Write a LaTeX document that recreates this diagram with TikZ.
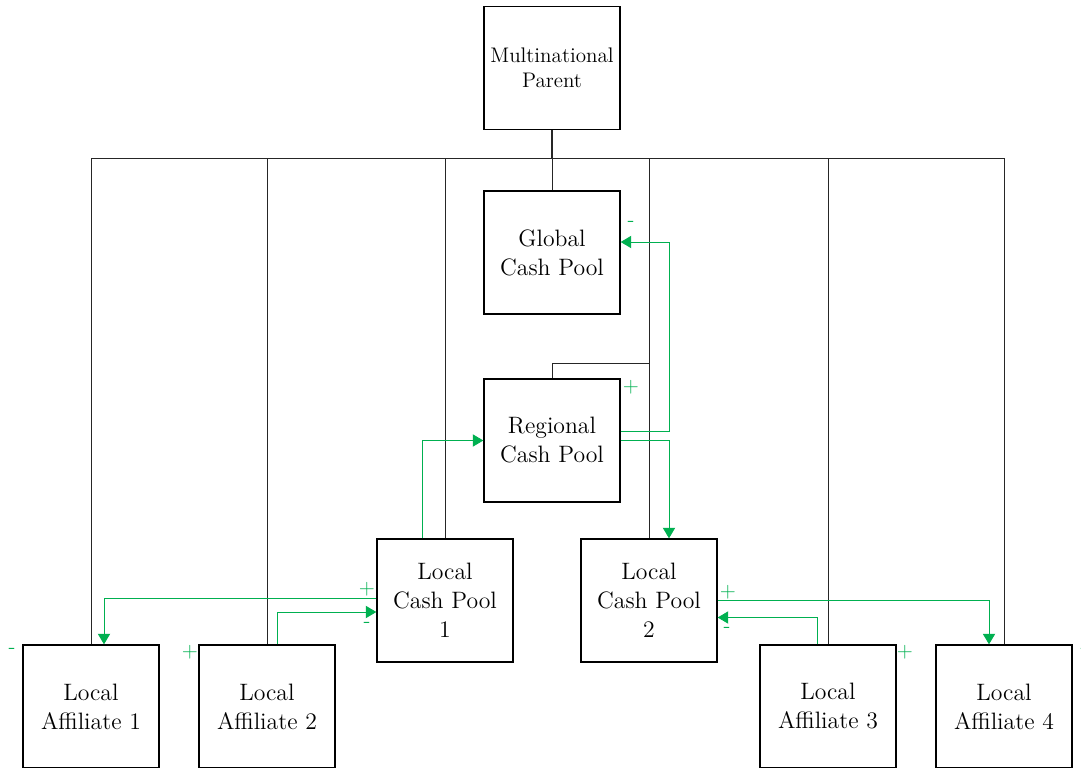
\documentclass[tikz,border=0pt]{standalone}
\usetikzlibrary{arrows.meta}

\definecolor{poolgreen}{RGB}{0,176,80}

\tikzset{
  box/.style={draw, line width=0.8pt, minimum width=2.72cm, minimum height=2.46cm,
    align=center, inner sep=0pt, font=\fontsize{13.5}{16.5}\selectfont},
  link/.style={draw, line width=0.5pt, black!85},
  flow/.style={draw, poolgreen, line width=0.5pt, -{Triangle[width=7pt,length=6pt]}},
  sign/.style={text=poolgreen, font=\fontsize{12}{14}\selectfont, inner sep=0pt}
}

\begin{document}
\begin{tikzpicture}[x=0.02cm,y=-0.02cm]
  % Page frame
  \useasboundingbox (0,0) rectangle (1081,767);

  % Boxes
  \node[box, font=\fontsize{12}{14.2}\selectfont] (parent) at (552,68) {Multinational\\Parent};
  \node[box] (global) at (552,252.5) {Global\\Cash Pool};
  \node[box] (regional) at (552,440.5) {Regional\\Cash Pool};
  \node[box] (lcp1) at (445,600.5) {Local\\Cash Pool\\1};
  \node[box] (lcp2) at (649,600.5) {Local\\Cash Pool\\2};
  \node[box] (la1) at (91,706.5) {Local\\Affiliate 1};
  \node[box] (la2) at (267,706.5) {Local\\Affiliate 2};
  \node[box] (la3) at (828,706.5) {Local\\Affiliate 3};
  \node[box] (la4) at (1004,706.5) {Local\\Affiliate 4};

  % Ownership lines
  \coordinate (bus) at (552,158);
  \coordinate (rbend) at (649,363);
  \draw[link, line width=1.1pt] (parent.south) -- (bus);
  \draw[link] (bus) -- (global.north);
  \draw[link] (bus) -| (la1.north);
  \draw[link] (bus) -| (la2.north);
  \draw[link] (bus) -| (lcp1.north);
  \draw[link] (bus) -| (lcp2.north);
  \draw[link] (bus) -| (la3.north);
  \draw[link] (bus) -| (la4.north);
  \draw[link] (bus) -| (rbend) -| (regional.north);

  % Cash flows
  \path[flow] ([yshift=0.19cm]regional.east) -- ++(0.98cm,0) |- ([yshift=0.21cm]global.east);
  \path[flow] (regional.east) -| ([xshift=0.4cm]lcp2.north);
  \path[flow] ([xshift=-0.46cm]lcp1.north) |- (regional.west);
  \path[flow] ([yshift=0.05cm]lcp1.west) -| ([xshift=0.26cm]la1.north);
  \path[flow] ([xshift=0.2cm]la2.north) |- ([yshift=-0.23cm]lcp1.west);
  \path[flow] (lcp2.east) -| ([xshift=-0.3cm]la4.north);
  \path[flow] ([xshift=-0.22cm]la3.north) |- ([yshift=-0.34cm]lcp2.east);

  % Signs
  \node[sign] (s1) at (631,224) {-};
  \node[sign] (s2) at (631,387) {+};
  \node[sign] (s3) at (367,589) {+};
  \node[sign] (s4) at (367,625) {-};
  \node[sign] (s5) at (12,651) {-};
  \node[sign] (s6) at (190,652) {+};
  \node[sign] (s7) at (728,592) {+};
  \node[sign] (s8) at (727,630) {-};
  \node[sign] (s9) at (905,652) {+};
  \node[sign] (s10) at (1084,651) {-};

\end{tikzpicture}
\end{document}
